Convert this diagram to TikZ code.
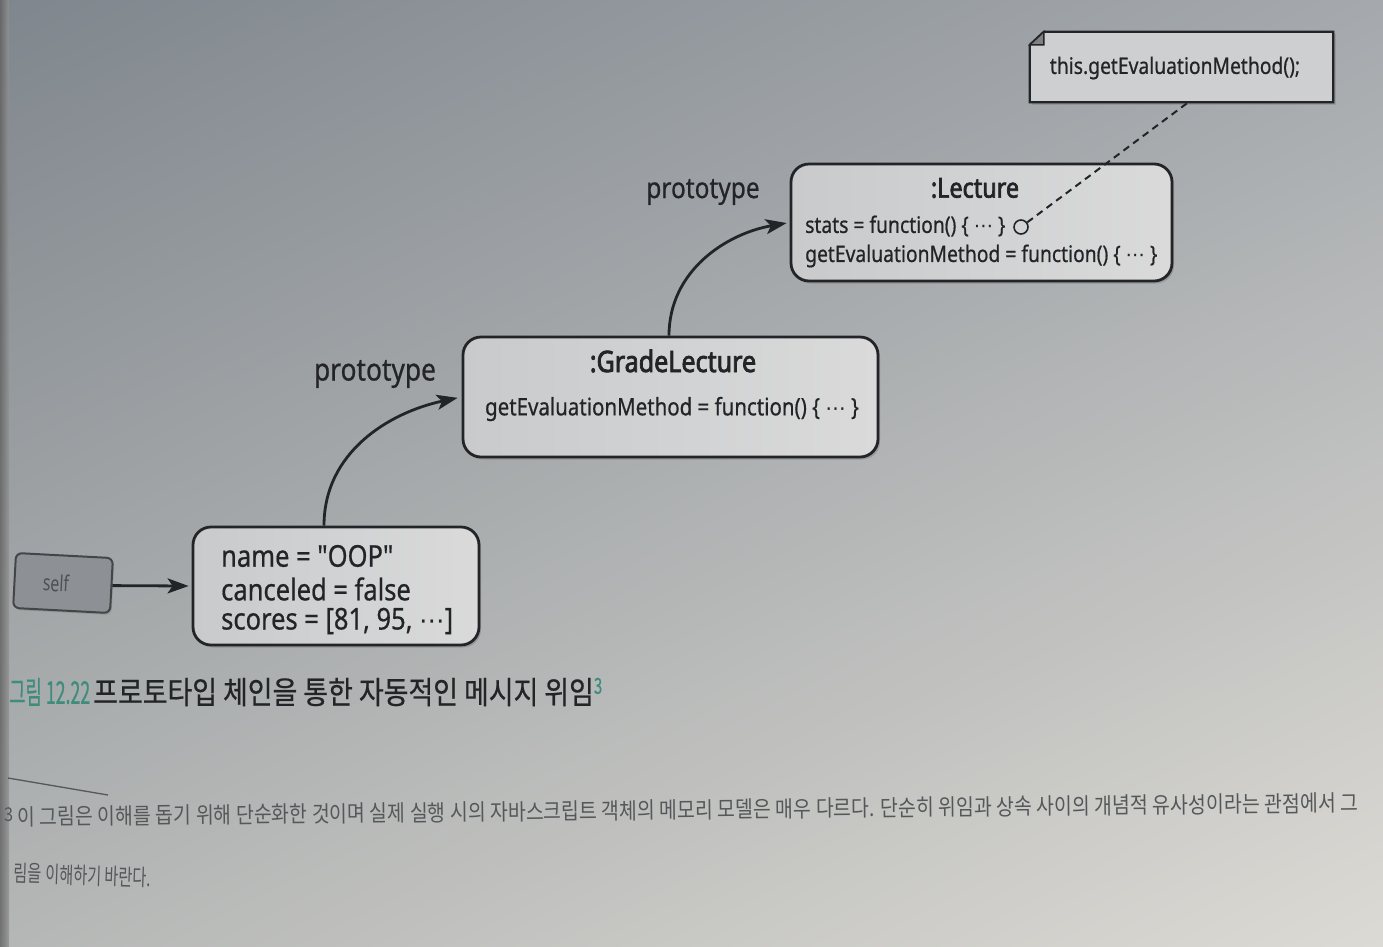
\documentclass[tikz,border=0pt]{standalone}
\usepackage{fontspec}
\setmainfont{Noto Sans}
\newfontfamily\latin[FakeStretch=0.85,FakeBold=0.6]{Noto Sans}
\newfontfamily\latinbf[FakeStretch=0.85,FakeBold=2.5]{Noto Sans}
\newfontfamily\narrow[FakeStretch=0.72]{Noto Sans}
\newfontfamily\kr[FakeStretch=0.86]{Noto Sans CJK KR}
\newfontfamily\krbold[FakeStretch=0.86,FakeBold=0.6]{Noto Sans CJK KR}
\newfontfamily\sym{DejaVu Sans}
\usetikzlibrary{arrows.meta,shadows,shadings}
\definecolor{ink}{HTML}{232427}
\definecolor{capteal}{HTML}{3E8C7C}
\definecolor{notegray}{HTML}{55585A}
\definecolor{pageTL}{HTML}{7F868D}
\definecolor{pageTR}{HTML}{A5A9AD}
\definecolor{pageBL}{HTML}{B5B7B6}
\definecolor{pageBR}{HTML}{DCDAD4}
\definecolor{boxL}{HTML}{C8CACC}
\definecolor{boxR}{HTML}{DADADA}
\definecolor{selfgray}{HTML}{8D9196}
\definecolor{notefill}{HTML}{CDCFD1}
\newcommand{\fs}[1]{\fontsize{#1}{#1}\selectfont}
\newcommand{\mdots}{{\sym\scalebox{0.85}{⋯}}}
\begin{document}
\begin{tikzpicture}[x=1pt,y=-1pt,
  objbox/.style={draw=ink, line width=2.8pt, rounded corners=18pt,
    left color=boxL, right color=boxR,
    drop shadow={shadow xshift=2pt, shadow yshift=-2.5pt, opacity=0.55},
    inner sep=0pt},
  line/.style={text=ink, inner sep=0pt, anchor=west},
  lbl/.style={text=ink, inner sep=0pt},
  arr/.style={draw=ink, line width=2.8pt, -{Stealth[length=21pt,width=15pt,inset=5pt]}},
  callout/.style={draw=ink, line width=2pt, dash pattern=on 7pt off 5pt}]
\useasboundingbox (0,0) rectangle (1383,946);
% page under uneven light
\shade[upper left=pageTL, upper right=pageTR, lower left=pageBL, lower right=pageBR]
  (0,0) rectangle (1383,946);
\shade[left color=black!62!white, right color=black!42!white, opacity=0.8] (0,0) rectangle (9,946);

% self reference
\node[rotate=-3, draw=ink!85, line width=2pt, rounded corners=6pt,
      fill=selfgray, minimum width=97pt, minimum height=55pt,
      drop shadow={shadow xshift=1.5pt, shadow yshift=-2pt, opacity=0.5}]
  (self) at (63,583) {};
\node[lbl, rotate=-3, text=ink!80] (selft) at (56,583) {\narrow\fs{22}self};

% instance object
\node[objbox, minimum width=286pt, minimum height=118pt] (obj) at (336,586) {};
\node[line] (o1) at (221,556) {\latin\fs{30}name = "OOP"};
\node[line] (o2) at (221,589) {\latin\fs{30}canceled = false};
\node[line] (o3) at (221,621) {\latin\fs{30}scores = [81, 95, \mdots]};

% GradeLecture prototype
\node[objbox, minimum width=415pt, minimum height=120pt] (grade) at (670.5,397) {};
\node[lbl] (gt) at (673,361) {\latinbf\fs{29.5}:GradeLecture};
\node[lbl] (g1) at (672,409) {\latin\fs{24.1}getEvaluationMethod = function() \{ \mdots\ \}};

% Lecture prototype
\node[objbox, minimum width=381pt, minimum height=117pt] (lect) at (981.5,222.5) {};
\node[lbl] (lt) at (975,188) {\latinbf\fs{27.5}:Lecture};
\node[line] (l1) at (805,226) {\latin\fs{22.7}stats = function() \{ \mdots\ \}};
\node[line] (l2) at (805,256) {\latin\fs{22.7}getEvaluationMethod = function() \{ \mdots\ \}};
\node[circle, draw=ink, line width=1.6pt, minimum size=14pt, inner sep=0pt] (dot) at (1021,227) {};

% note with folded corner
\node[minimum width=303pt, minimum height=70pt, inner sep=0pt] (note) at (1181.5,67) {};
\fill[black!55, opacity=0.5] ([xshift=2.5pt,yshift=-2.5pt]note.north east) -- ([xshift=2.5pt,yshift=-2.5pt]note.south east)
  -- ([xshift=2.5pt,yshift=-2.5pt]note.south west) -- ([xshift=2.5pt]note.south west) -- (note.south east) -- (note.north east) -- cycle;
\draw[ink, line width=2.2pt, fill=notefill]
  ([xshift=14pt]note.north west) -- (note.north east) -- (note.south east)
  -- (note.south west) -- ([yshift=-13pt]note.north west) -- cycle;
\draw[ink, line width=1.4pt, fill=black!50!white]
  ([yshift=-13pt]note.north west) -- ([xshift=14pt]note.north west)
  -- ([xshift=14pt,yshift=-13pt]note.north west) -- cycle;
\node[lbl] (nt) at (1175,68) {\latin\fs{22.7}this.getEvaluationMethod();};
\coordinate (tail) at (1190,101);
\draw[callout] (dot) -- (tail);

% prototype links
\node[lbl] (p1) at (375,374) {\latin\fs{31}prototype};
\node[lbl] (p2) at (703,192) {\latin\fs{28.8}prototype};
\draw[arr] (self.east) -- ([xshift=-3pt]obj.west);
\draw[arr, shorten >=4pt] ([xshift=-12pt]obj.north) to[out=90, in=192] (grade.west);
\draw[arr, shorten >=3pt] ([xshift=-1.5pt]grade.north) to[out=90, in=190] (lect.west);

% caption
\node[inner sep=0pt, anchor=west] (cap) at (9,692)
  {\krbold\fs{31.3}\scalebox{0.66}[1]{\color{capteal}그림 12.22}\hspace{3pt}\textcolor{ink}{프로토타입 체인을 통한 자동적인 메시지 위임}\raisebox{10pt}{\color{capteal}\fs{22}\scalebox{0.8}[1]{3}}};

% footnote
\draw[notegray, line width=1.3pt] (8,778) -- (108,795);
\node[inner sep=0pt, anchor=west, rotate=0.6, text=notegray] (fn1) at (4,817)
  {\kr\fs{22.6}\raisebox{4pt}{\fs{19}3} 이 그림은 이해를 돕기 위해 단순화한 것이며 실제 실행 시의 자바스크립트 객체의 메모리 모델은 매우 다르다. 단순히 위임과 상속 사이의 개념적 유사성이라는 관점에서 그};
\node[inner sep=0pt, anchor=west, rotate=-2, text=notegray] (fn2) at (14,873)
  {\kr\fs{22.7}\scalebox{0.78}[1]{림을 이해하기 바란다.}};
\end{tikzpicture}
\end{document}
